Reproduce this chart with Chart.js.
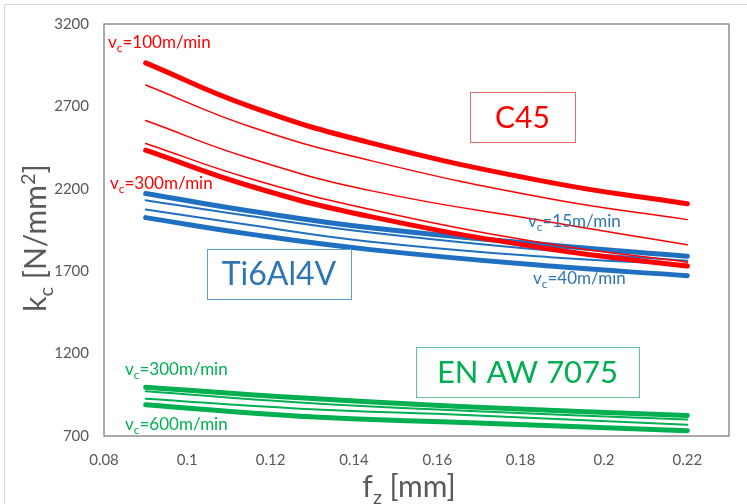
<!DOCTYPE html>
<html><head><meta charset="utf-8">
<script src="https://cdn.jsdelivr.net/npm/chart.js@4"></script>
<style>
html,body{margin:0;padding:0;background:#fff;overflow:hidden}
#wrap{position:relative;width:747px;height:504px;overflow:hidden}
#frame{position:absolute;left:4px;top:4px;width:800px;height:560px;border:1px solid #d9d9d9;box-sizing:border-box}
canvas{position:absolute;left:0;top:0}
</style></head><body>
<div id="wrap"><div id="frame"></div><canvas id="c" width="747" height="504"></canvas></div>
<script>
// ---- data ----
const fzSteel = [0.09, 0.115, 0.144, 0.187, 0.22];
const c45_vc100 = [2964, 2700, 2479, 2239, 2109];
const c45_2 = [2830, 2578, 2371, 2139, 2013];
const c45_3 = [2614, 2385, 2189, 1999, 1861];
const c45_4 = [2475, 2262, 2075, 1865, 1755];
const c45_vc300 = [2434, 2217, 2031, 1835, 1731];
const ti_vc15 = [2171, 2065, 1963, 1859, 1791];
const ti_2 = [2131, 2035, 1935, 1825, 1763];
const ti_3 = [2075, 1980, 1879, 1785, 1740];
const ti_vc40 = [2025, 1925, 1831, 1731, 1673];
const fzAl = [0.09, 0.127, 0.168, 0.22];
const al_vc300 = [996, 932, 876, 824];
const al_2 = [972, 904, 852, 800];
const al_3 = [926, 866, 826, 768];
const al_vc600 = [890, 820, 780, 732];
const xTickValues = [0.08, 0.10, 0.12, 0.14, 0.16, 0.18, 0.20, 0.22];
const xTickLabels = ['0.08', '0.1', '0.12', '0.14', '0.16', '0.18', '0.2', '0.22'];
const yTickValues = [700, 1200, 1700, 2200, 2700, 3200];
const yTickLabels = ['700', '1200', '1700', '2200', '2700', '3200'];

const RED = '#ff0000', BLUE = '#1f70c1', GREEN = '#00b050';
const FF = 'Lato, "DejaVu Sans", sans-serif';
const GRAY = '#595959';

function pts(xs, ys) { return xs.map((x, i) => ({x: x, y: ys[i]})); }
function ds(xs, ys, color, w) {
  return {data: pts(xs, ys), borderColor: color, backgroundColor: color, borderWidth: w,
    showLine: true, pointRadius: 0, pointHoverRadius: 0, tension: 0.45,
    borderCapStyle: 'round', fill: false};
}

const datasets = [
  ds(fzSteel, c45_vc100, RED, 5),
  ds(fzSteel, c45_2, RED, 1.5),
  ds(fzSteel, c45_3, RED, 1.5),
  ds(fzSteel, c45_4, RED, 1.5),
  ds(fzSteel, c45_vc300, RED, 5),
  ds(fzSteel, ti_vc15, BLUE, 5),
  ds(fzSteel, ti_2, BLUE, 2),
  ds(fzSteel, ti_3, BLUE, 2),
  ds(fzSteel, ti_vc40, BLUE, 5),
  ds(fzAl, al_vc300, GREEN, 5),
  ds(fzAl, al_2, GREEN, 2),
  ds(fzAl, al_3, GREEN, 2),
  ds(fzAl, al_vc600, GREEN, 5)
];

function runWidth(ctx, size, parts) {
  let w = 0;
  for (const p of parts) { ctx.font = Math.round(size * p[1]) + 'px ' + FF; w += ctx.measureText(p[0]).width; }
  return w;
}
function drawRun(ctx, x, y, size, parts, color) {
  ctx.fillStyle = color; ctx.textBaseline = 'alphabetic'; ctx.textAlign = 'left';
  for (const p of parts) {
    ctx.font = Math.round(size * p[1]) + 'px ' + FF;
    ctx.fillText(p[0], x, y + p[2] * size);
    x += ctx.measureText(p[0]).width;
  }
}
function vcLabel(rest) { return [['v', 1, 0], ['c', 0.68, 0.22], [rest, 1, 0]]; }

const annot = {
  id: 'annot',
  afterDraw(chart) {
    const ctx = chart.ctx, a = chart.chartArea;
    ctx.save();
    ctx.strokeStyle = '#7f7f7f'; ctx.lineWidth = 1.3;
    ctx.strokeRect(a.left, a.top, a.right - a.left, a.bottom - a.top);
    const tSize = 30;
    const yParts = [['k', 1, 0], ['c', 0.66, 0.22], [' [N/mm', 1, 0], ['2', 0.66, -0.38], [']', 1, 0]];
    ctx.save();
    ctx.translate(46, 238); ctx.rotate(-Math.PI / 2);
    const yw = runWidth(ctx, tSize, yParts);
    drawRun(ctx, -yw / 2, 0, tSize, yParts, GRAY);
    ctx.restore();
    const xParts = [['f', 1, 0], ['z', 0.66, 0.22], [' [mm]', 1, 0]];
    const xw = runWidth(ctx, tSize, xParts);
    drawRun(ctx, 409 - xw / 2, 497, tSize, xParts, GRAY);
    const ls = 17;
    drawRun(ctx, 108, 48, ls, vcLabel('=100m/min'), RED);
    drawRun(ctx, 110, 189, ls, vcLabel('=300m/min'), RED);
    drawRun(ctx, 528, 227, ls, vcLabel('=15m/min'), '#2e75b6');
    drawRun(ctx, 533, 284, ls, vcLabel('=40m/min'), '#2e75b6');
    drawRun(ctx, 125, 375, ls, vcLabel('=300m/min'), GREEN);
    drawRun(ctx, 125, 430, ls, vcLabel('=600m/min'), GREEN);
    function box(x0, y0, x1, y1, stroke, text, size, color) {
      ctx.strokeStyle = stroke; ctx.lineWidth = 1;
      ctx.strokeRect(x0 + 0.5, y0 + 0.5, x1 - x0, y1 - y0);
      ctx.font = size + 'px ' + FF; ctx.fillStyle = color;
      ctx.textAlign = 'center'; ctx.textBaseline = 'middle';
      ctx.fillText(text, (x0 + x1) / 2, (y0 + y1) / 2 + 1);
    }
    box(470, 92, 575, 142, '#e86a6a', 'C45', 30, RED);
    box(207, 249, 351, 299, '#5aa0c8', 'Ti6Al4V', 32, '#2e75b6');
    box(416, 347, 639, 397, '#5cc592', 'EN AW 7075', 31, GREEN);
    ctx.restore();
  }
};

new Chart(document.getElementById('c'), {
  type: 'scatter',
  data: {datasets: datasets},
  options: {
    responsive: false, animation: false, devicePixelRatio: 1,
    layout: {padding: {left: 0, top: 19, right: 18, bottom: 0}},
    plugins: {legend: {display: false}, tooltip: {enabled: false}},
    scales: {
      x: {
        type: 'linear', min: 0.08, max: 0.23,
        grid: {display: false, drawTicks: false}, border: {display: false},
        afterBuildTicks(s) { s.ticks = xTickValues.map(v => ({value: v})); },
        afterFit(s) { s.height = 68; },
        ticks: {padding: 15, color: GRAY, font: {family: FF, size: 15},
          callback(v, i) { return xTickLabels[i]; }}
      },
      y: {
        type: 'linear', min: 700, max: 3200,
        grid: {display: false, drawTicks: false}, border: {display: false},
        afterBuildTicks(s) { s.ticks = yTickValues.map(v => ({value: v})); },
        afterFit(s) { s.width = 104; },
        ticks: {padding: 15, color: GRAY, font: {family: FF, size: 15},
          callback(v, i) { return yTickLabels[i]; }}
      }
    }
  },
  plugins: [annot]
});
</script>
</body></html>
